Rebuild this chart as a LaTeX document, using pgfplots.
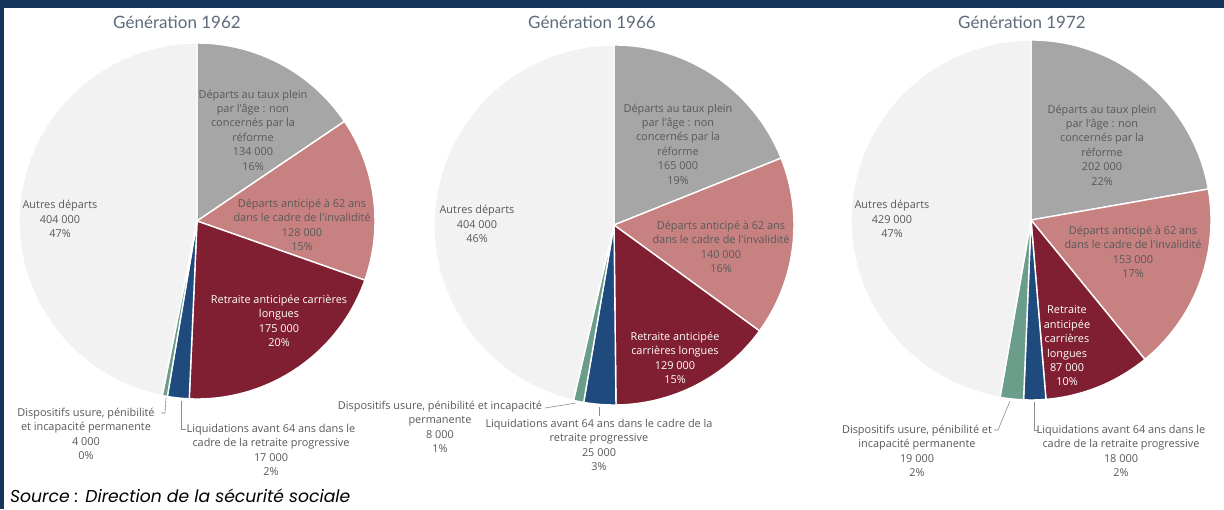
\documentclass[border=0pt]{standalone}
\usepackage{pgfplots}
\pgfplotsset{compat=1.18}
\usepackage{fontspec}
\setmainfont{Lato}
\newfontfamily\labfont{Open Sans}
\newfontfamily\srcfont{Poppins}
\definecolor{cGray}{HTML}{A6A6A6}
\definecolor{cPink}{HTML}{C78181}
\definecolor{cRed}{HTML}{801F31}
\definecolor{cNavy}{HTML}{1F4A7E}
\definecolor{cGreen}{HTML}{6B9E8A}
\definecolor{cLight}{HTML}{F2F2F2}
\definecolor{cText}{HTML}{595959}
\definecolor{cTitle}{HTML}{5D6B7B}
\definecolor{cFrame}{HTML}{17355C}
\definecolor{cLead}{HTML}{8C8C8C}

% values in thousands: taux plein, invalidite, carrieres longues, progressive, usure, autres
\def\genA{134,128,175,17,4,404}
\def\genB{165,140,129,25,8,404}
\def\genC{202,153,87,18,19,429}

\newcommand\sector[4]{%
  \edef\temp{\noexpand\fill[#3,draw=white,line width=1.4pt] (axis cs:0,0) -- (axis cs:{cos(#1)},{sin(#1)}) arc[start angle=#1,end angle=#2,radius=#4pt] -- cycle;}\temp}

\newcommand\piechart[3]{% cx, cy (px from top), r ; values in \vA..\vF
  \pgfmathsetmacro\tot{\vA+\vB+\vC+\vD+\vE+\vF}
  \pgfmathsetmacro\aA{90}
  \pgfmathsetmacro\aB{\aA-360*(\vA/\tot)}
  \pgfmathsetmacro\aC{\aB-360*(\vB/\tot)}
  \pgfmathsetmacro\aD{\aC-360*(\vC/\tot)}
  \pgfmathsetmacro\aE{\aD-360*(\vD/\tot)}
  \pgfmathsetmacro\aF{\aE-360*(\vE/\tot)}
  \pgfmathsetmacro\aG{-270}
  \pgfmathsetmacro\Yc{509-#2}
  \pgfmathsetmacro\Dm{2*#3}
  \begin{axis}[at={(#1pt,\Yc pt)},anchor=center,scale only axis,
    width=\Dm pt,height=\Dm pt,xmin=-1,xmax=1,ymin=-1,ymax=1,hide axis,clip=false]
    \sector{\aA}{\aB}{cGray}{#3}
    \sector{\aB}{\aC}{cPink}{#3}
    \sector{\aC}{\aD}{cRed}{#3}
    \sector{\aD}{\aE}{cNavy}{#3}
    \sector{\aE}{\aF}{cGreen}{#3}
    \sector{\aF}{\aG}{cLight}{#3}
  \end{axis}}

\newcommand\setvals[1]{\edef\tmpl{#1}\expandafter\splitvals\tmpl\relax}
\def\splitvals#1,#2,#3,#4,#5,#6\relax{\def\vA{#1}\def\vB{#2}\def\vC{#3}\def\vD{#4}\def\vE{#5}\def\vF{#6}}

\tikzset{lab/.style={align=center,font=\labfont\fontsize{10.9}{14.4}\selectfont,text=cText,inner sep=0pt},
  wlab/.style={lab,text=white},
  ttl/.style={font=\fontsize{17}{18}\selectfont,text=cTitle,inner sep=0pt},
  lead/.style={draw=cLead,line width=0.6pt}}

\begin{document}
\begin{tikzpicture}[x=1pt,y=1pt]
\fill[white] (0,0) rectangle (1224,509);

\setvals{\genA}\piechart{197}{221}{178}
\setvals{\genB}\piechart{614}{225}{180}
\setvals{\genC}\piechart{1031}{220}{180}

\fill[cFrame] (0,501) rectangle (1224,509);
\fill[cFrame] (0,0) rectangle (4,509);

% titles
\node[ttl] at (177,509-22) {Génération 1962};
\node[ttl] at (592,509-22) {Génération 1966};
\node[ttl] at (1022,509-22) {Génération 1972};

% 1962
\node[lab] at (253,509-130) {Départs au taux plein\\par l'âge : non\\concernés par la\\réforme\\134 000\\16\%};
\node[lab] at (302,509-225) {Départs anticipé à 62 ans\\dans le cadre de l'invalidité\\128 000\\15\%};
\node[wlab] at (279,509-321) {Retraite anticipée carrières\\longues\\175 000\\20\%};
\node[lab] at (60,509-219) {Autres départs\\404 000\\47\%};
\node[lab] at (86,509-434) {Dispositifs usure, pénibilité\\et incapacité permanente\\4 000\\0\%};
\node[lab] at (271,509-450) {Liquidations avant 64 ans dans le\\cadre de la retraite progressive\\17 000\\2\%};
\draw[lead] (161,509-413) -- (165,509-413) -- (166,509-398);
\draw[lead] (186,509-429) -- (181,509-429) -- (181,509-401);

% 1966
\node[lab] at (678,509-144) {Départs au taux plein\\par l'âge : non\\concernés par la\\réforme\\165 000\\19\%};
\node[lab] at (721,509-247) {Départs anticipé à 62 ans\\dans le cadre de l'invalidité\\140 000\\16\%};
\node[wlab] at (675,509-358) {Retraite anticipée\\carrières longues\\129 000\\15\%};
\node[lab] at (440,509-224) {};
\node[lab] at (477,509-224) {Autres départs\\404 000\\46\%};
\node[lab] at (440,509-427) {Dispositifs usure, pénibilité et incapacité\\permanente\\8 000\\1\%};
\node[lab] at (599,509-445) {Liquidations avant 64 ans dans le cadre de la\\retraite progressive\\25 000\\3\%};
\draw[lead] (545,509-408) -- (576,509-403);
\draw[lead] (599,509-407) -- (599,509-416);

% 1972
\node[lab] at (1102,509-145) {Départs au taux plein\\par l'âge : non\\concernés par la\\réforme\\202 000\\22\%};
\node[lab] at (1133,509-252) {Départs anticipé à 62 ans\\dans le cadre de l'invalidité\\153 000\\17\%};
\node[wlab] at (1067,509-346) {Retraite\\anticipée\\carrières\\longues\\87 000\\10\%};
\node[lab] at (892,509-219) {Autres départs\\429 000\\47\%};
\node[lab] at (917,509-451) {Dispositifs usure, pénibilité et\\incapacité permanente\\19 000\\2\%};
\node[lab] at (1121,509-451) {Liquidations avant 64 ans dans le\\cadre de la retraite progressive\\18 000\\2\%};
\draw[lead] (994,509-430) -- (998,509-430) -- (1010,509-401);
\draw[lead] (1039,509-430) -- (1034,509-430) -- (1034,509-402);

% source
\node[anchor=west,inner sep=0pt,font=\srcfont\itshape\fontsize{17.2}{20}\selectfont,text=black] at (10,509-496) {Source : Direction de la sécurité sociale};
\end{tikzpicture}
\end{document}
